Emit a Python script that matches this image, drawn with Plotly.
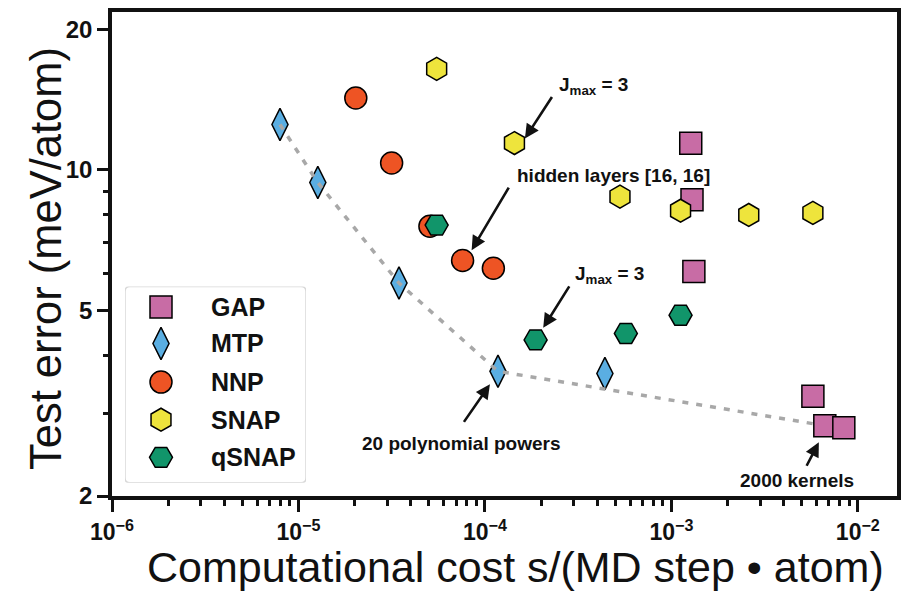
import math
import plotly.graph_objects as go

# ---------------- data ----------------
series_names = ["GAP", "MTP", "NNP", "SNAP", "qSNAP"]

gap_cost = [1.27e-3, 1.29e-3, 1.32e-3, 5.74e-3, 6.65e-3, 8.41e-3]
gap_err = [11.4, 8.63, 6.05, 3.27, 2.83, 2.80]

mtp_cost = [7.96e-6, 1.27e-5, 3.46e-5, 1.175e-4, 4.40e-4]
mtp_err = [12.5, 9.39, 5.72, 3.70, 3.66]

nnp_cost = [2.03e-5, 3.16e-5, 5.07e-5, 7.59e-5, 1.11e-4]
nnp_err = [14.25, 10.34, 7.57, 6.39, 6.15]

snap_cost = [5.51e-5, 1.44e-4, 5.30e-4, 1.12e-3, 2.60e-3, 5.74e-3]
snap_err = [16.45, 11.41, 8.76, 8.17, 8.00, 8.08]

qsnap_cost = [5.51e-5, 1.87e-4, 5.70e-4, 1.12e-3]
qsnap_err = [7.61, 4.32, 4.46, 4.88]

# Pareto front: first four MTP points and the "2000 kernels" GAP point
pareto_cost = mtp_cost[:4] + [gap_cost[4]]
pareto_err = mtp_err[:4] + [gap_err[4]]

x_tick_vals = [1e-6, 1e-5, 1e-4, 1e-3, 1e-2]
x_tick_text = ["10<sup>\u22126</sup>", "10<sup>\u22125</sup>", "10<sup>\u22124</sup>",
               "10<sup>\u22123</sup>", "10<sup>\u22122</sup>"]
y_tick_vals = [2, 5, 10, 20]
y_tick_text = ["2", "5", "10", "20"]
y_minor_vals = [3, 4, 6, 7, 8, 9]

x_title = "Computational cost s/(MD step \u2022 atom)"
y_title = "Test error (meV/atom)"

# ---------------- styling ----------------
FONT = "Liberation Sans, Arial, Helvetica, sans-serif"
INK = "#111111"
OUTLINE = dict(color="black", width=1.5)

styles = {
    "GAP": dict(symbol="square", size=22, color="#C86CA5", line=OUTLINE),
    "MTP": dict(symbol="diamond-tall", size=23, color="#5AAEE2", line=OUTLINE),
    "NNP": dict(symbol="circle", size=22, color="#EE5424", line=OUTLINE),
    "SNAP": dict(symbol="hexagon", size=23, color="#EEE43C", line=OUTLINE),
    "qSNAP": dict(symbol="hexagon2", size=23, color="#11956A", line=OUTLINE),
}
series_data = {
    "GAP": (gap_cost, gap_err),
    "MTP": (mtp_cost, mtp_err),
    "NNP": (nnp_cost, nnp_err),
    "SNAP": (snap_cost, snap_err),
    "qSNAP": (qsnap_cost, qsnap_err),
}

fig = go.Figure()

# draw order: MTP, Pareto line, GAP, NNP, SNAP, qSNAP
fig.add_trace(go.Scatter(x=mtp_cost, y=mtp_err, mode="markers", name="MTP",
                         showlegend=False, marker=styles["MTP"]))
fig.add_trace(go.Scatter(x=pareto_cost, y=pareto_err, mode="lines", showlegend=False,
                         hoverinfo="skip",
                         line=dict(color="#A8A8A8", width=3.5, dash="6px,8px")))
for nm in ["GAP", "NNP", "SNAP", "qSNAP"]:
    cx, cy = series_data[nm]
    fig.add_trace(go.Scatter(x=cx, y=cy, mode="markers", name=nm,
                             showlegend=False, marker=styles[nm]))

# ---- legend drawn in its own small subplot (so symbols keep full size) ----
legend_rows = [302, 338, 376, 413, 450]   # layout positions (px-like units of x2/y2)
for nm, row in zip(series_names, legend_rows):
    fig.add_trace(go.Scatter(x=[161], y=[row], mode="markers", name=nm,
                             xaxis="x2", yaxis="y2", showlegend=False,
                             hoverinfo="skip", marker=styles[nm]))

# minor ticks on x: 2..9 in every decade within range
x_minor_vals = []
for e in range(-6, -1):
    for m in range(2, 10):
        v = m * 10 ** e
        if v < 10 ** -1.79:
            x_minor_vals.append(v)

ANN_FONT = dict(family=FONT, size=19, color=INK, weight="bold")
annotations = []
# arrows (head in log-axis units, tail offset in pixels)
arrow_specs = [
    (-3.7855, 1.0669, 28, -43),
    (-4.0713, 0.8278, 38, -64),
    (-3.6874, 0.6613, 27, -43),
    (-3.9732, 0.5402, -27, 39),
    (-2.2091, 0.4162, -13, 25),
]
for hx, hy, ax, ay in arrow_specs:
    annotations.append(dict(
        x=hx, y=hy, xref="x", yref="y", ax=ax, ay=ay, axref="pixel", ayref="pixel",
        text="", showarrow=True, arrowhead=2, arrowsize=1.1, arrowwidth=2.6,
        arrowcolor=INK))
annotations += [
    dict(x=-3.6155, y=1.1793, xref="x", yref="y", text="J<sub>max</sub> = 3",
         showarrow=False, xanchor="left", yanchor="middle", font=ANN_FONT),
    dict(x=-3.8391, y=0.988, xref="x", yref="y", text="hidden layers [16, 16]",
         showarrow=False, xanchor="left", yanchor="middle", font=ANN_FONT),
    dict(x=-3.5282, y=0.775, xref="x", yref="y", text="J<sub>max</sub> = 3",
         showarrow=False, xanchor="left", yanchor="middle", font=ANN_FONT),
    dict(x=-4.1233, y=0.414, xref="x", yref="y", text="20 polynomial powers",
         showarrow=False, xanchor="center", yanchor="middle", font=ANN_FONT),
    dict(x=-2.327, y=0.3336, xref="x", yref="y", text="2000 kernels",
         showarrow=False, xanchor="center", yanchor="middle", font=ANN_FONT),
    # axis titles
    dict(x=0.5134, y=-0.146, xref="paper", yref="paper", text=x_title,
         showarrow=False, xanchor="center", yanchor="middle",
         font=dict(family=FONT, size=43, color=INK)),
    dict(x=-0.0841, y=0.4916, xref="paper", yref="paper", text=y_title,
         showarrow=False, xanchor="center", yanchor="middle", textangle=-90,
         font=dict(family=FONT, size=43.5, color=INK)),
]
# legend labels
for nm, row in zip(series_names, legend_rows):
    annotations.append(dict(x=209, y=row, xref="x2", yref="y2", text=nm,
                            showarrow=False, xanchor="left", yanchor="middle",
                            font=dict(family=FONT, size=25, color=INK, weight="bold")))

# rounded legend frame
legend_box = ("M130,282 L301,282 Q306,282 306,287 L306,470 Q306,475 301,475 "
              "L130,475 Q125,475 125,470 L125,287 Q125,282 130,282 Z")

# page body has an 8px margin: figure shrunk by 8px so it ends at the window edge
fig.update_layout(
    width=901, height=589,
    margin=dict(l=104, r=12, t=4, b=101, autoexpand=False),
    paper_bgcolor="white", plot_bgcolor="white",
    font=dict(family=FONT, color=INK),
    showlegend=False,
    annotations=annotations,
    shapes=[dict(type="path", path=legend_box, xref="x2", yref="y2", layer="below",
                 fillcolor="white", line=dict(color="#D8D8D8", width=1.5))],
    xaxis=dict(
        domain=[0, 1], anchor="y",
        type="log", range=[-6, -1.79], automargin=False,
        tickmode="array", tickvals=x_tick_vals, ticktext=x_tick_text,
        tickfont=dict(family=FONT, size=23, color=INK, weight="bold"),
        ticks="outside", ticklen=12, tickwidth=3, tickcolor=INK, ticklabelstandoff=1,
        minor=dict(tickmode="array", tickvals=x_minor_vals, ticks="outside",
                   ticklen=6, tickwidth=2.5, tickcolor=INK, showgrid=False),
        showline=True, linewidth=3.5, linecolor=INK, mirror=True,
        showgrid=False, zeroline=False,
    ),
    yaxis=dict(
        domain=[0, 1], anchor="x",
        type="log", range=[math.log10(2), 1.338], automargin=False,
        tickmode="array", tickvals=y_tick_vals, ticktext=y_tick_text,
        tickfont=dict(family=FONT, size=24, color=INK, weight="bold"),
        ticks="outside", ticklen=11, tickwidth=3, tickcolor=INK,
        minor=dict(tickmode="array", tickvals=y_minor_vals, ticks="outside",
                   ticklen=5, tickwidth=2.5, tickcolor=INK, showgrid=False),
        showline=True, linewidth=3.5, linecolor=INK, mirror=True,
        showgrid=False, zeroline=False,
    ),
    xaxis2=dict(domain=[13 / 785, 194 / 785], range=[125, 306], anchor="y2",
                visible=False, fixedrange=True),
    yaxis2=dict(domain=[13 / 476, 206 / 476], range=[475, 282], anchor="x2",
                visible=False, fixedrange=True),
)

fig.write_html("out.html")
